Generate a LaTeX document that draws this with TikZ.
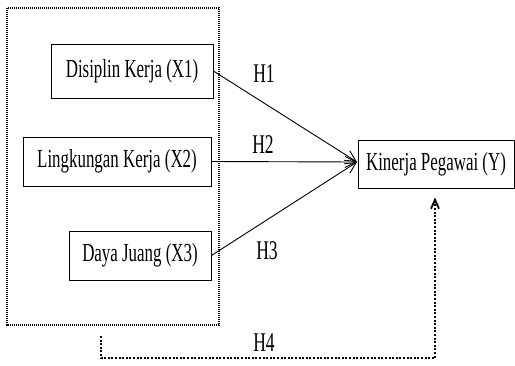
\documentclass[tikz,border=0pt]{standalone}
\usepackage{fontspec}
\setmainfont{Liberation Serif}[FakeStretch=0.65]
\usetikzlibrary{arrows.meta}
\begin{document}
\begin{tikzpicture}[x=1pt,y=-1pt,
  varbox/.style={draw,line width=0.9pt,rectangle,inner sep=0pt,font=\fontsize{26}{30}\selectfont},
  hlabel/.style={inner sep=0pt,font=\fontsize{27}{30}\selectfont},
  path/.style={line width=0.9pt,-{Straight Barb[length=11pt,width=11pt,line width=0.9pt]}},
  groupbox/.style={line width=1.3pt,dash pattern=on 1.1pt off 0.9pt},
  h4path/.style={line width=2pt,dash pattern=on 2pt off 1.6pt,-{Straight Barb[length=9pt,width=8pt,line width=1.8pt]}}]
\useasboundingbox (0,0) rectangle (515,365);
\draw[groupbox] (7,8) rectangle (219,325);
\node[varbox,minimum width=162pt,minimum height=54pt] (x1) at (132,71) {Disiplin Kerja (X1)};
\node[varbox,minimum width=188pt,minimum height=49pt] (x2) at (117,161.5) {Lingkungan Kerja (X2)};
\node[varbox,minimum width=142pt,minimum height=49pt] (x3) at (140,255.5) {Daya Juang (X3)};
\node[varbox,minimum width=156pt,minimum height=48pt] (y) at (436,164) {Kinerja Pegawai (Y)};
\coordinate (conv) at (357,162);
\draw[path] (x1.east) -- (conv);
\draw[path] (x2.east) -- (conv);
\draw[path] (x3.east) -- (conv);
\node[hlabel] (h1) at (264,73.5) {H1};
\node[hlabel] (h2) at (263,145) {H2};
\node[hlabel] (h3) at (267,251) {H3};
\node[hlabel] (h4) at (264,343) {H4};
\coordinate (h4s) at (101,336);
\coordinate (h4c) at (101,358);
\draw[h4path] (h4s) -- (h4c) -| ([xshift=-1pt,yshift=-9pt]y.south);
\end{tikzpicture}
\end{document}
